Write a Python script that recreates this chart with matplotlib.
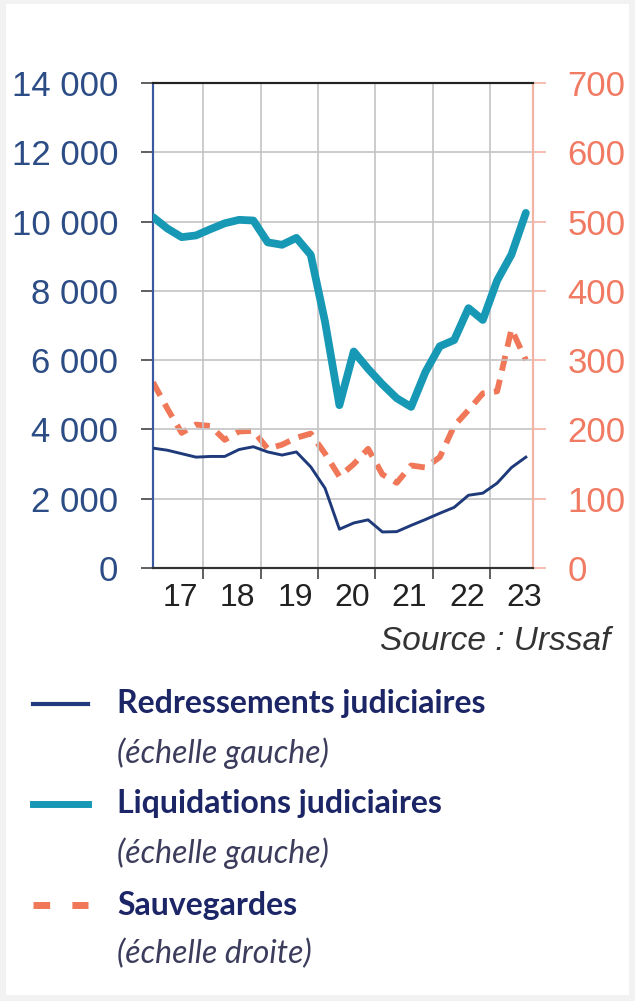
import numpy as np
import matplotlib
matplotlib.use("Agg")
from matplotlib import pyplot as plt
from matplotlib.patches import Rectangle
from matplotlib.lines import Line2D
from matplotlib.ticker import FuncFormatter

# quarterly points, 2017 Q1 .. 2023 Q3 (mid-quarter positions)
quarters = [2017.125 + 0.25 * k for k in range(27)]

redressements = [3460, 3400, 3300, 3200, 3220, 3220, 3420, 3500, 3350,
                 3260, 3350, 2920, 2300, 1120, 1300, 1390, 1040, 1050,
                 1230, 1400, 1580, 1750, 2100, 2160, 2450, 2900, 3200]

liquidations = [10130, 9800, 9550, 9600, 9780, 9950, 10050, 10030, 9400,
                9330, 9530, 9040, 7100, 4700, 6250, 5750, 5300, 4900,
                4650, 5660, 6400, 6580, 7500, 7160, 8300, 9050, 10250]

sauvegardes = [268, 230, 195, 207, 205, 185, 197, 198, 172,
               178, 188, 194, 165, 132, 150, 172, 135, 123,
               148, 145, 160, 205, 228, 252, 255, 345, 300]

years = [2018, 2019, 2020, 2021, 2022, 2023]
year_labels = ["17", "18", "19", "20", "21", "22", "23"]

NAVY = "#1f3a7a"
TEAL = "#1798b5"
SALMON = "#f07858"
LEFT_TXT = "#2b4c84"
RIGHT_TXT = "#f07a62"
LEG_TXT = "#1c2566"
LEG_IT = "#3c3c5c"

plt.rcParams["font.family"] = ["Liberation Sans", "DejaVu Sans"]

fig = plt.figure(figsize=(6.35, 10.01), dpi=100)
fig.patch.set_facecolor("#f2f2f2")
fig.patches.append(Rectangle((6 / 635, 6 / 1001), 623 / 635, 991 / 1001,
                             transform=fig.transFigure, facecolor="white",
                             edgecolor="none", zorder=-10))

ax = fig.add_axes([153 / 635, 1 - 568 / 1001, 380 / 635, 485 / 1001])
ax.set_facecolor("none")
ax2 = ax.twinx()
ax2.set_facecolor("none")

ax.set_xlim(2017.125, 2023.75)
ax.set_ylim(0, 14000)
ax2.set_ylim(0, 700)

ax.set_yticks(range(0, 14001, 2000))
ax.yaxis.set_major_formatter(FuncFormatter(lambda v, p: f"{int(v):,}".replace(",", " ")))
ax2.set_yticks(range(0, 701, 100))

ax.grid(axis="y", color="#c4c4c4", linewidth=1.2)
ax.set_xticks(years)
ax.set_xticklabels([])
ax.grid(axis="x", color="#c4c4c4", linewidth=1.2)
ax.set_xticks([y + 0.6 for y in range(2017, 2024)], minor=True)
ax.set_xticklabels(year_labels, minor=True)
ax.tick_params(axis="x", which="major", length=8, width=1.2, color="#444444")
ax.tick_params(axis="x", which="minor", length=0, pad=11, labelsize=23, labelcolor="#222222")
ax.tick_params(axis="y", length=9, width=1.2, color="#444444", pad=16,
               labelsize=25, labelcolor=LEFT_TXT)
ax2.tick_params(axis="y", length=9, width=1.2, color="#f4b4a4", pad=16,
                labelsize=25, labelcolor=RIGHT_TXT)

for a in (ax, ax2):
    a.spines["top"].set_color("#222222")
    a.spines["top"].set_linewidth(1.5)
    a.spines["bottom"].set_color("#333333")
    a.spines["bottom"].set_linewidth(1.5)
    a.spines["left"].set_color("#3a5aa0")
    a.spines["left"].set_linewidth(1.5)
    a.spines["right"].set_color("#f4b4a4")
    a.spines["right"].set_linewidth(1.5)

ax2.plot(quarters, sauvegardes, color=SALMON, linewidth=4.2,
         dashes=(2.6, 1.6), zorder=3)
ax.plot(quarters, liquidations, color=TEAL, linewidth=5.6, solid_capstyle="round",
        solid_joinstyle="round", zorder=4)
ax.plot(quarters, redressements, color=NAVY, linewidth=2.1, zorder=4)
ax.set_zorder(ax2.get_zorder() + 1)

fig.text(610 / 635, 1 - 642 / 1001, "Source : Urssaf", style="italic",
         fontsize=24, color="#333333", ha="right", va="center")

# legend drawn by hand
entries = [
    ("Redressements judiciaires", "(échelle gauche)", NAVY, 3, "-", 704),
    ("Liquidations judiciaires", "(échelle gauche)", TEAL, 5, "-", 804),
    ("Sauvegardes", "(échelle droite)", SALMON, 5, "--", 905),
]
for bold, ital, col, lw, ls, yp in entries:
    y = 1 - yp / 1001
    line = Line2D([33 / 635, 88 / 635], [y, y], transform=fig.transFigure,
                  color=col, linewidth=lw, linestyle=ls)
    if ls == "--":
        line.set_dashes((2.4, 3.2))
    fig.lines.append(line)
    fig.text(117 / 635, y, bold, fontsize=23, fontweight="bold", color=LEG_TXT,
             family=["Lato", "DejaVu Sans"], ha="left", va="center")
    fig.text(117 / 635, y - 49 / 1001, ital, fontsize=23, style="italic",
             color=LEG_IT, family=["Lato", "DejaVu Sans"], ha="left", va="center")

fig.savefig("out.png", dpi=100)
